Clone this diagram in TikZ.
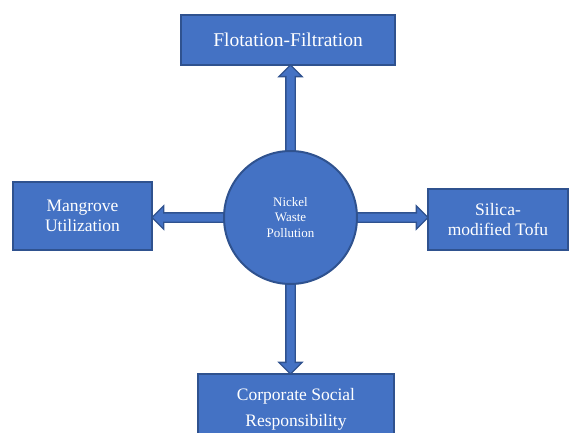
\documentclass[tikz,border=0pt]{standalone}
\usepackage{fontspec}
\setmainfont{Liberation Serif}
\usetikzlibrary{shapes.arrows,calc,backgrounds}
\definecolor{topicblue}{RGB}{68,114,196}
\definecolor{edgeblue}{RGB}{47,82,143}

\tikzset{
  topicbox/.style={draw=edgeblue, line width=2pt, fill=topicblue, text=white,
    align=center, inner sep=0pt, outer sep=0pt},
  hub/.style={topicbox, circle},
  flowarrow/.style={single arrow, draw=edgeblue, line width=1.3pt, fill=topicblue,
    inner xsep=0pt, inner ysep=4pt, outer sep=0pt,
    single arrow head extend=7pt, single arrow tip angle=90},
  flow/.style={to path={let \p1=(\tikztostart), \p2=(\tikztotarget),
    \n1={atan2(\y2-\y1,\x2-\x1)}, \n2={veclen(\x2-\x1,\y2-\y1)} in
    node[flowarrow, minimum height=\n2, rotate=\n1, anchor=tail] at (\tikztostart) {}}}
}

\begin{document}
\begin{tikzpicture}[x=1pt, y=-1pt]
  \useasboundingbox (0,0) rectangle (570,433);
  \clip (0,0) rectangle (570,433);

  % Central topic
  \node[hub, minimum size=133pt, font=\fontsize{13}{15.5}\selectfont] (hub) at (290.5,217.5)
    {Nickel\\Waste\\Pollution};

  % Top box
  \node[topicbox, minimum width=214pt, minimum height=50pt, font=\fontsize{19.5}{22}\selectfont]
    (top) at (288,40) {Flotation-Filtration};

  % Left box
  \node[topicbox, minimum width=139pt, minimum height=68pt, font=\fontsize{17.5}{20.5}\selectfont]
    (lft) at (82.5,216) {Mangrove\\Utilization};

  % Right box
  \node[topicbox, minimum width=140pt, minimum height=61pt, font=\fontsize{17.5}{20}\selectfont]
    (rgt) at (498,219.5) {Silica-\\modified Tofu};

  % Bottom box (runs past the lower edge)
  \node[topicbox, minimum width=196pt, minimum height=70pt, font=\fontsize{17.5}{26}\selectfont]
    (bot) at (296,409) {Corporate Social\\Responsibility};

  % Block arrows out of the centre
  \begin{scope}[on background layer]
    \path (hub.center) to[flow] (hub.center |- top.south);
    \path (hub.center) to[flow] (hub.center |- bot.north);
    \path (hub.center) to[flow] (hub.center -| lft.east);
    \path (hub.center) to[flow] (hub.center -| rgt.west);
  \end{scope}
\end{tikzpicture}
\end{document}
